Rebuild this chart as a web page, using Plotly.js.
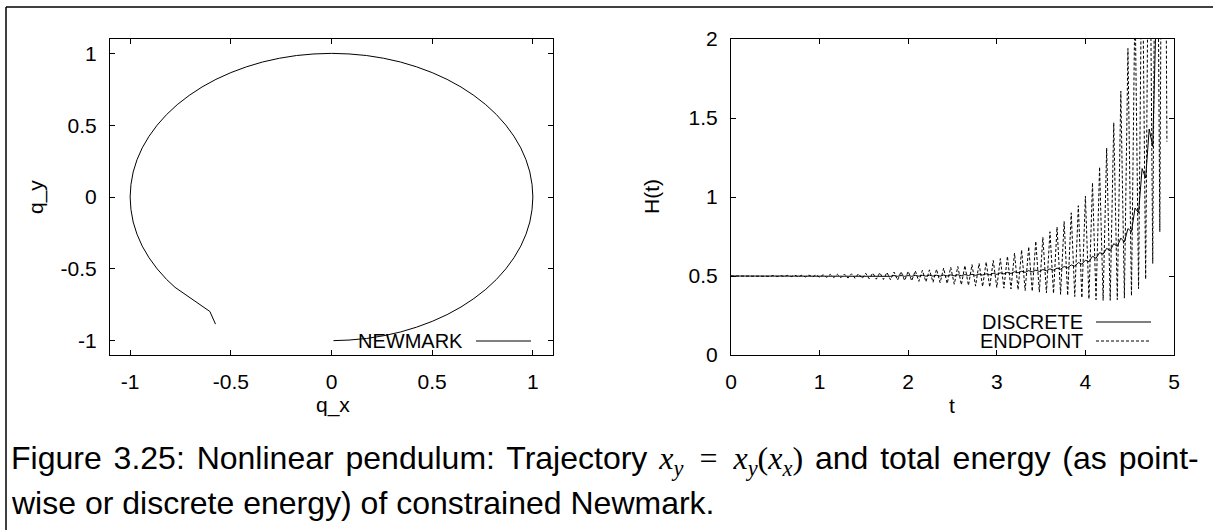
<!DOCTYPE html>
<html>
<head>
<meta charset="utf-8">
<script src="https://cdn.plot.ly/plotly-3.0.1.min.js"></script>
<style>
  html, body { margin: 0; padding: 0; background: #fff; }
  #fig { width: 1213px; height: 530px; }
</style>
</head>
<body>
<div id="fig"></div>
<script>
// Pendulum trajectory (constrained Newmark): position q_x, q_y
const qx = [0.010, 0.087, 0.174, 0.259, 0.342, 0.423, 0.500, 0.574, 0.643, 0.707, 0.766, 0.819, 0.866, 0.906, 0.940, 0.966, 0.985, 0.996,
            1.000, 0.996, 0.985, 0.966, 0.940, 0.906, 0.866, 0.819, 0.766, 0.707, 0.643, 0.574, 0.500, 0.423, 0.342, 0.259, 0.174, 0.087,
            0.000, -0.087, -0.174, -0.259, -0.342, -0.423, -0.500, -0.574, -0.643, -0.707, -0.766, -0.819, -0.866, -0.906, -0.940, -0.966, -0.985, -0.996,
            -1.000, -0.996, -0.985, -0.966, -0.940, -0.906, -0.866, -0.819, -0.777, -0.604, -0.576];
const qy = [-1.000, -0.996, -0.985, -0.966, -0.940, -0.906, -0.866, -0.819, -0.766, -0.707, -0.643, -0.574, -0.500, -0.423, -0.342, -0.259, -0.174, -0.087,
            0.000, 0.087, 0.174, 0.259, 0.342, 0.423, 0.500, 0.574, 0.643, 0.707, 0.766, 0.819, 0.866, 0.906, 0.940, 0.966, 0.985, 0.996,
            1.000, 0.996, 0.985, 0.966, 0.940, 0.906, 0.866, 0.819, 0.766, 0.707, 0.643, 0.574, 0.500, 0.423, 0.342, 0.259, 0.174, 0.087,
            0.000, -0.087, -0.174, -0.259, -0.342, -0.423, -0.500, -0.574, -0.629, -0.797, -0.885];

// Time samples for the energy plot
const tSteps = [0.00, 0.04, 0.08, 0.12, 0.16, 0.20, 0.24, 0.28, 0.32, 0.36, 0.40, 0.44, 0.48, 0.52, 0.56, 0.60, 0.64, 0.68, 0.72, 0.76,
                0.80, 0.84, 0.88, 0.92, 0.96, 1.00, 1.04, 1.08, 1.12, 1.16, 1.20, 1.24, 1.28, 1.32, 1.36, 1.40, 1.44, 1.48, 1.52, 1.56,
                1.60, 1.64, 1.68, 1.72, 1.76, 1.80, 1.84, 1.88, 1.92, 1.96, 2.00, 2.04, 2.08, 2.12, 2.16, 2.20, 2.24, 2.28, 2.32, 2.36,
                2.40, 2.44, 2.48, 2.52, 2.56, 2.60, 2.64, 2.68, 2.72, 2.76, 2.80, 2.84, 2.88, 2.92, 2.96, 3.00, 3.04, 3.08, 3.12, 3.16,
                3.20, 3.24, 3.28, 3.32, 3.36, 3.40, 3.44, 3.48, 3.52, 3.56, 3.60, 3.64, 3.68, 3.72, 3.76, 3.80, 3.84, 3.88, 3.92, 3.96,
                4.00, 4.04, 4.08, 4.12, 4.16, 4.20, 4.24, 4.28, 4.32, 4.36, 4.40, 4.44, 4.48, 4.52, 4.56, 4.60, 4.64, 4.68, 4.72, 4.76,
                4.80, 4.84, 4.88, 4.92];

// Discrete energy H(t)
const hDiscrete = [0.500, 0.500, 0.500, 0.500, 0.500, 0.500, 0.501, 0.499, 0.501, 0.499, 0.501, 0.499, 0.501, 0.499, 0.501, 0.499, 0.501, 0.499, 0.501, 0.499,
                   0.501, 0.499, 0.501, 0.499, 0.502, 0.498, 0.502, 0.498, 0.502, 0.498, 0.502, 0.498, 0.502, 0.498, 0.502, 0.498, 0.502, 0.498, 0.502, 0.498,
                   0.502, 0.498, 0.502, 0.498, 0.502, 0.498, 0.503, 0.498, 0.503, 0.498, 0.503, 0.498, 0.504, 0.499, 0.504, 0.499, 0.505, 0.499, 0.505, 0.499,
                   0.506, 0.500, 0.507, 0.501, 0.508, 0.502, 0.509, 0.503, 0.511, 0.504, 0.512, 0.506, 0.514, 0.508, 0.517, 0.510, 0.520, 0.513, 0.523, 0.516,
                   0.527, 0.520, 0.530, 0.523, 0.534, 0.526, 0.537, 0.529, 0.541, 0.533, 0.545, 0.537, 0.550, 0.543, 0.560, 0.552, 0.570, 0.562, 0.585, 0.575,
                   0.600, 0.590, 0.625, 0.612, 0.648, 0.638, 0.675, 0.660, 0.705, 0.688, 0.740, 0.715, 0.800, 0.780, 0.930, 0.900, 1.180, 1.120, 1.430, 1.320,
                   2.200, 2.400, 2.900, 3.200];

// Pointwise (endpoint) energy H(t)
const hEndpoint = [0.500, 0.500, 0.501, 0.499, 0.501, 0.499, 0.501, 0.499, 0.502, 0.498, 0.502, 0.498, 0.503, 0.497, 0.503, 0.497, 0.504, 0.496, 0.505, 0.495,
                   0.505, 0.494, 0.506, 0.494, 0.507, 0.492, 0.508, 0.491, 0.510, 0.490, 0.511, 0.489, 0.512, 0.487, 0.514, 0.486, 0.515, 0.484, 0.517, 0.482,
                   0.519, 0.480, 0.521, 0.478, 0.523, 0.476, 0.525, 0.474, 0.528, 0.471, 0.530, 0.469, 0.533, 0.466, 0.536, 0.463, 0.539, 0.460, 0.543, 0.457,
                   0.550, 0.452, 0.555, 0.448, 0.560, 0.444, 0.566, 0.440, 0.572, 0.436, 0.580, 0.433, 0.589, 0.430, 0.598, 0.427, 0.610, 0.423, 0.625, 0.418,
                   0.645, 0.413, 0.665, 0.408, 0.685, 0.403, 0.720, 0.398, 0.745, 0.394, 0.780, 0.390, 0.810, 0.384, 0.845, 0.377, 0.900, 0.370, 0.945, 0.362,
                   1.005, 0.355, 1.090, 0.350, 1.190, 0.346, 1.310, 0.346, 1.470, 0.350, 1.670, 0.360, 1.940, 0.375, 2.300, 0.420, 2.800, 0.480, 3.400, 0.580,
                   4.200, 0.780, 5.300, 1.350];

// Axis ticks
const trajTickVals = [-1, -0.5, 0, 0.5, 1];
const trajTickText = ['-1', '-0.5', '0', '0.5', '1'];
const timeTickVals = [0, 1, 2, 3, 4, 5];
const timeTickText = ['0', '1', '2', '3', '4', '5'];
const energyTickVals = [0, 0.5, 1, 1.5, 2];
const energyTickText = ['0', '0.5', '1', '1.5', '2'];

const W = 1213, H = 530;
const px = x => x / W;
const py = y => 1 - y / H;

const FONT = 'Liberation Sans, Arial, sans-serif';
const tickFont = { family: FONT, size: 21, color: '#000' };
const keyFont = { family: FONT, size: 20, color: '#000' };
const capFont = { family: FONT, size: 32, color: '#000' };

function axisStyle(extra) {
  return Object.assign({
    showline: true, mirror: 'allticks', linecolor: '#000', linewidth: 1,
    ticks: 'inside', ticklen: 5, tickwidth: 1, tickcolor: '#000',
    showgrid: false, zeroline: false, tickmode: 'array',
    tickfont: tickFont, ticklabelstandoff: 8, fixedrange: true
  }, extra);
}

const traces = [
  { x: qx, y: qy, xaxis: 'x', yaxis: 'y', mode: 'lines', name: 'NEWMARK',
    line: { color: '#000', width: 1 }, hoverinfo: 'skip' },
  { x: tSteps, y: hEndpoint, xaxis: 'x2', yaxis: 'y2', mode: 'lines', name: 'ENDPOINT',
    line: { color: '#000', width: 1, dash: '3px,2px' }, hoverinfo: 'skip' },
  { x: tSteps, y: hDiscrete, xaxis: 'x2', yaxis: 'y2', mode: 'lines', name: 'DISCRETE',
    line: { color: '#000', width: 1 }, hoverinfo: 'skip' }
];

const yDom = [py(355), py(39)];
const sp = '\u2002';

const layout = {
  width: W, height: H,
  margin: { l: 0, r: 0, t: 0, b: 0 },
  paper_bgcolor: '#fff', plot_bgcolor: '#fff',
  showlegend: false,
  xaxis: axisStyle({ domain: [px(110), px(553)], range: [-1.1, 1.1], anchor: 'y',
                     tickvals: trajTickVals, ticktext: trajTickText }),
  yaxis: axisStyle({ domain: yDom, range: [-1.1, 1.1], anchor: 'x',
                     tickvals: trajTickVals, ticktext: trajTickText }),
  xaxis2: axisStyle({ domain: [px(731), px(1174)], range: [0, 5], anchor: 'y2',
                      tickvals: timeTickVals, ticktext: timeTickText }),
  yaxis2: axisStyle({ domain: yDom, range: [0, 2], anchor: 'x2',
                      tickvals: energyTickVals, ticktext: energyTickText }),
  shapes: [
    // figure frame (top and left edges)
    { type: 'line', xref: 'paper', yref: 'paper', x0: px(6), x1: 1, y0: py(7), y1: py(7),
      line: { color: '#000', width: 1.5 } },
    { type: 'line', xref: 'paper', yref: 'paper', x0: px(6), x1: px(6), y0: py(7), y1: 0,
      line: { color: '#000', width: 1.5 } },
    // key samples
    { type: 'line', xref: 'paper', yref: 'paper', x0: px(476), x1: px(531), y0: py(341), y1: py(341),
      line: { color: '#000', width: 1 } },
    { type: 'line', xref: 'paper', yref: 'paper', x0: px(1096), x1: px(1151), y0: py(322), y1: py(322),
      line: { color: '#000', width: 1 } },
    { type: 'line', xref: 'paper', yref: 'paper', x0: px(1096), x1: px(1151), y0: py(341), y1: py(341),
      line: { color: '#000', width: 1, dash: '3px,2px' } }
  ],
  annotations: [
    // axis titles
    { text: 'q_x', xref: 'paper', yref: 'paper', x: px(333), y: py(405), showarrow: false,
      xanchor: 'center', yanchor: 'middle', font: tickFont },
    { text: 'q_y', xref: 'paper', yref: 'paper', x: px(36), y: py(197), showarrow: false, textangle: -90,
      xanchor: 'center', yanchor: 'middle', font: tickFont },
    { text: 't', xref: 'paper', yref: 'paper', x: px(952), y: py(405), showarrow: false,
      xanchor: 'center', yanchor: 'middle', font: tickFont },
    { text: 'H(t)', xref: 'paper', yref: 'paper', x: px(651), y: py(197), showarrow: false, textangle: -90,
      xanchor: 'center', yanchor: 'middle', font: tickFont },
    // keys
    { text: 'NEWMARK', xref: 'paper', yref: 'paper', x: px(465), y: py(341), showarrow: false,
      xanchor: 'right', yanchor: 'middle', font: keyFont },
    { text: 'DISCRETE', xref: 'paper', yref: 'paper', x: px(1085), y: py(322), showarrow: false,
      xanchor: 'right', yanchor: 'middle', font: keyFont },
    { text: 'ENDPOINT', xref: 'paper', yref: 'paper', x: px(1085), y: py(341), showarrow: false,
      xanchor: 'right', yanchor: 'middle', font: keyFont },
    // caption (first line justified to the full width)
    { text: '<span style="word-spacing:3px">Figure 3.25: Nonlinear pendulum: Trajectory ' +
            '<span style="font-family:Liberation Serif, serif"><i>x</i><sub><i>y</i></sub>' + sp + '=' + sp +
            '<i>x</i><sub><i>y</i></sub>(<i>x</i><sub><i>x</i></sub>)</span>' +
            ' and total energy (as point-</span>',
      xref: 'paper', yref: 'paper', x: px(9), y: py(460), showarrow: false,
      xanchor: 'left', yanchor: 'middle', font: capFont },
    { text: 'wise or discrete energy) of constrained Newmark.',
      xref: 'paper', yref: 'paper', x: px(9), y: py(503), showarrow: false,
      xanchor: 'left', yanchor: 'middle', font: capFont }
  ]
};

Plotly.newPlot('fig', traces, layout, { staticPlot: true, displayModeBar: false });
</script>
</body>
</html>
